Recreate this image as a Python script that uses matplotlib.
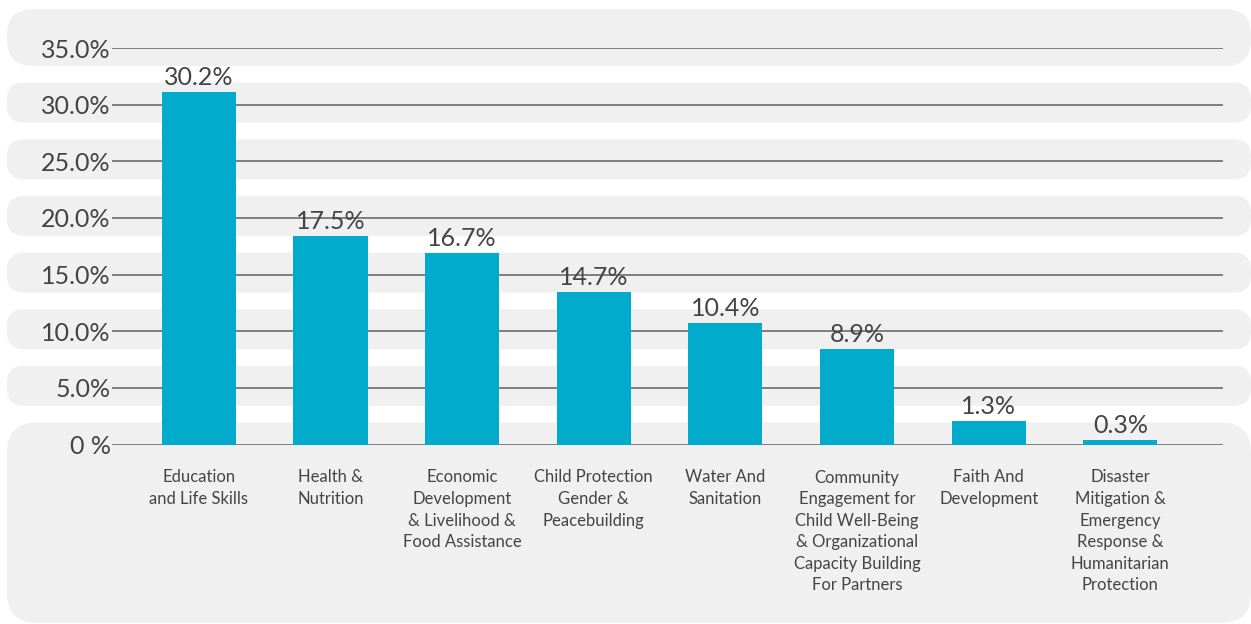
import matplotlib.pyplot as plt
from matplotlib.patches import FancyBboxPatch

plt.rcParams["font.family"] = ["Lato", "DejaVu Sans"]

# dados
categories = [
    "Education\nand Life Skills",
    "Health &\nNutrition",
    "Economic\nDevelopment\n& Livelihood &\nFood Assistance",
    "Child Protection\nGender &\nPeacebuilding",
    "Water And\nSanitation",
    "Community\nEngagement for\nChild Well-Being\n& Organizational\nCapacity Building\nFor Partners",
    "Faith And\nDevelopment",
    "Disaster\nMitigation &\nEmergency\nResponse &\nHumanitarian\nProtection",
]
shares = [30.2, 17.5, 16.7, 14.7, 10.4, 8.9, 1.3, 0.3]          # rótulos
bar_heights = [31.1, 18.4, 16.9, 13.5, 10.75, 8.4, 2.05, 0.4]   # altura desenhada
y_ticks = [0, 5, 10, 15, 20, 25, 30, 35]
y_ticklabels = ["0 %", "5.0%", "10.0%", "15.0%", "20.0%", "25.0%", "30.0%", "35.0%"]

BAR = "#00abcc"
TEXT = "#444444"
BAND = "#f0f0f0"

W, H = 1251, 624
fig = plt.figure(figsize=(W / 100, H / 100), dpi=100)
fig.patch.set_facecolor("white")

# posição do eixo em pixels
x0, x1 = 112, 1223
y_zero, y_top = 444.5, 48
ax = fig.add_axes([x0 / W, (H - y_zero) / H, (x1 - x0) / W, (y_zero - y_top) / H])

# fundo: faixas cinza arredondadas em coordenadas de pixel
bg = fig.add_axes([0, 0, 1, 1], zorder=-1)
bg.set_xlim(0, W)
bg.set_ylim(H, 0)
bg.axis("off")
px_per_unit = (y_zero - y_top) / (y_ticks[-1] - y_ticks[0])
for t in y_ticks:
    gy = y_zero - t * px_per_unit
    top, bottom, r = gy - 22, gy + 18, 17
    if t == y_ticks[-1]:
        top, r = 9, 26
    if t == 0:
        bottom, r = 623, 30
    bg.add_patch(FancyBboxPatch((7 + r, top + r), W - 7 - 2 * r, bottom - top - 2 * r,
                                boxstyle=f"round,pad={r}", fc=BAND, ec="none"))

ax.set_facecolor("none")
x = list(range(len(categories)))
ax.bar(x, bar_heights, width=0.5625, color=BAR, zorder=3)
for xi, h, s in zip(x, bar_heights, shares):
    ax.annotate(f"{s:.1f}%", (xi, h), xytext=(0, 5), textcoords="offset points",
                ha="center", va="baseline", fontsize=18, color=TEXT, zorder=4)

for t in y_ticks:
    ax.axhline(t, color="#606060", lw=1.1, zorder=2)

ax.set_xlim(-0.66, 7.78)
ax.set_ylim(0, 35)
ax.set_yticks(y_ticks)
ax.set_yticklabels(y_ticklabels, fontsize=18, color=TEXT)
ax.set_xticks(x)
ax.set_xticklabels(categories, fontsize=12, color=TEXT, linespacing=1.43, va="top")
ax.tick_params(axis="both", length=0)
ax.tick_params(axis="y", pad=1)
ax.tick_params(axis="x", pad=18)
for s in ax.spines.values():
    s.set_visible(False)

fig.savefig("out.png", dpi=100)
